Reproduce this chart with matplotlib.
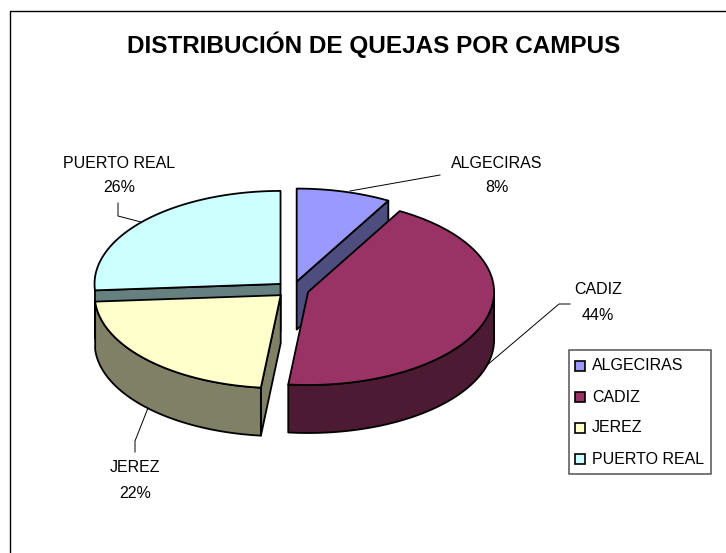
"""3D-look exploded pie: quejas por campus."""
import matplotlib

matplotlib.use("Agg")
import matplotlib.pyplot as plt
import numpy as np
from matplotlib.patches import Polygon, Rectangle

plt.rcParams["font.family"] = ["Liberation Sans", "DejaVu Sans"]

CAMPUS = ["ALGECIRAS", "CADIZ", "JEREZ", "PUERTO REAL"]
SHARES = [8.2, 43.5, 22.2, 26.1]
TOP_COLORS = ["#9999FF", "#993366", "#FFFFCC", "#CCFFFF"]
SIDE_COLORS = ["#4D4D80", "#4D1A33", "#808066", "#668080"]

TITLE = "DISTRIBUCIÓN DE QUEJAS POR CAMPUS"

# pie geometry, in pixels
CX, CY = 292.5, 289.5
RX, RY = 186, 93
EXPLODE = 0.088
DEPTH = 48
LW = 1.3

LABEL_POS = [(497, 163), (598, 290), (135, 468), (119, 163)]
LEADERS = [
    [(350, 191), (440, 175)],
    [(486, 366), (559, 304), (570, 304)],
    [(148, 408), (135, 441), (135, 452)],
    [(118, 203), (118, 216), (141, 222)],
]


def rim(center, deg):
    """Points on the top ellipse, angle clockwise from 12 o'clock."""
    rad = np.radians(deg)
    return np.column_stack([center[0] + RX * np.sin(rad),
                            center[1] - RY * np.cos(rad)])


def drop(pts):
    return pts + np.array([0, DEPTH])


def add_poly(ax, pts, color):
    ax.add_patch(Polygon(pts, closed=True, facecolor=color, edgecolor="black",
                         linewidth=LW, joinstyle="round"))


def draw_wedge(ax, start, end, top_color, side_color):
    mid = np.radians((start + end) / 2)
    center = np.array([CX + EXPLODE * RX * np.sin(mid),
                       CY - EXPLODE * RY * np.cos(mid)])

    # cut faces, only the ones turned towards the viewer
    if np.sin(np.radians(end)) > 0:
        edge = np.vstack([center, rim(center, [end])])
        add_poly(ax, np.vstack([edge, drop(edge)[::-1]]), side_color)
    if np.sin(np.radians(start)) < 0:
        edge = np.vstack([center, rim(center, [start])])
        add_poly(ax, np.vstack([edge, drop(edge)[::-1]]), side_color)

    # outer wall, front half of the ellipse only (skip slivers at the edge)
    lo, hi = max(start, 90), min(end, 270)
    if hi - lo > 5:
        arc = rim(center, np.linspace(lo, hi, 60))
        add_poly(ax, np.vstack([arc, drop(arc)[::-1]]), side_color)

    arc = rim(center, np.linspace(start, end, 90))
    add_poly(ax, np.vstack([center, arc]), top_color)


fig = plt.figure(figsize=(7.26, 5.53), dpi=100)
ax = fig.add_axes([0, 0, 1, 1])
ax.set_xlim(0, 726)
ax.set_ylim(553, 0)
ax.axis("off")

# chart frame
ax.plot([9.5, 9.5, 726], [553, 10.5, 10.5], color="black", lw=1.0)

ax.text(374, 44.5, TITLE, ha="center", va="center", fontsize=17.5,
        fontweight="bold", color="black")

edges = 360 * np.cumsum([0] + SHARES) / sum(SHARES)
# back wedges first so the front ones sit over them
for i in [3, 0, 1, 2]:
    draw_wedge(ax, edges[i], edges[i + 1], TOP_COLORS[i], SIDE_COLORS[i])

for name, share, pos, leader in zip(CAMPUS, SHARES, LABEL_POS, LEADERS):
    ax.text(pos[0], pos[1], name, ha="center", va="center", fontsize=11.5)
    ax.text(pos[0], pos[1] + 25, f"{share / sum(SHARES) * 100:.0f}%",
            ha="center", va="center", fontsize=11.5)
    xs, ys = zip(*leader)
    ax.plot(xs, ys, color="black", lw=0.7)

# legend
ax.add_patch(Rectangle((569, 350), 142, 124, facecolor="white",
                       edgecolor="#606060", linewidth=1.2))
for i, (name, color) in enumerate(zip(CAMPUS, TOP_COLORS)):
    y = 366 + 31 * i
    ax.add_patch(Rectangle((575, y - 5), 10, 10, facecolor=color,
                           edgecolor="black", linewidth=1.2))
    ax.text(592, y, name, ha="left", va="center", fontsize=11.5)

fig.savefig("out.png", dpi=100)
